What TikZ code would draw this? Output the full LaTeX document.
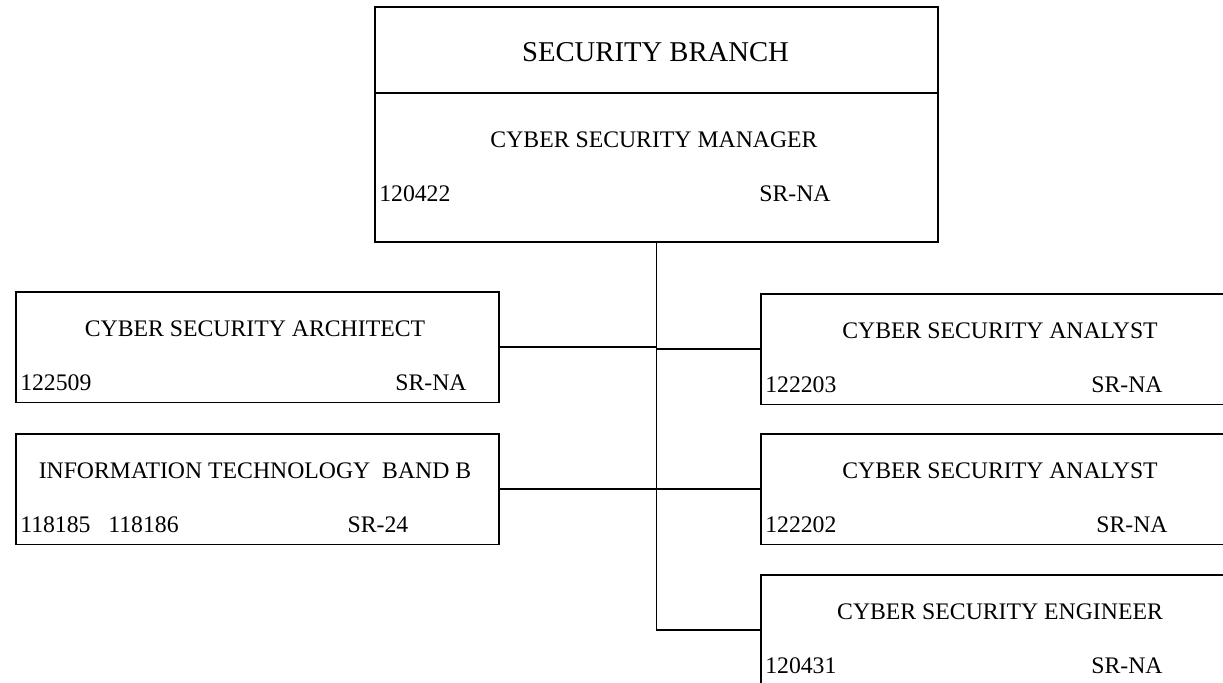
\documentclass[tikz,border=0pt]{standalone}
\usepackage{fontspec}
\setmainfont{Liberation Serif}
\usetikzlibrary{positioning}

\tikzset{
  post/.style={draw, line width=1.2pt, anchor=north west, inner sep=0pt,
    minimum width=362.25pt, minimum height=83pt},
  label/.style={inner sep=0pt, font=\fontsize{17.8}{20}\selectfont},
  link/.style={line width=1pt}
}

\begin{document}
\begin{tikzpicture}[x=0.75pt, y=-0.75pt]
  \useasboundingbox (0,0) rectangle (1223,682);
  \clip (0,0) rectangle (1223,682);

  % Branch head and manager
  \node[post, minimum width=422.25pt, minimum height=64.5pt] (branch) at (374,6) {};
  \node[post, minimum width=422.25pt, minimum height=111.75pt] (mgr) at (374,92) {};
  \node[label, anchor=base, font=\fontsize{21.5}{24}\selectfont] (branch-t) at (655.5,61) {SECURITY BRANCH};
  \node[label, anchor=base] (mgr-t) at (654,147) {CYBER SECURITY MANAGER};
  \node[label, anchor=base west] (mgr-n) at (379,201) {120422};
  \node[label, anchor=base] (mgr-g) at (795,201) {SR-NA};

  % Positions under the manager
  \foreach \n/\x/\y/\t/\num/\g/\gx in {
      arch/15/291/CYBER SECURITY ARCHITECT/122509/SR-NA/431,
      itb/15/433/INFORMATION TECHNOLOGY\ \ BAND B/118185\ \ \ 118186/SR-24/378,
      ana1/760/293/CYBER SECURITY ANALYST/122203/SR-NA/1127,
      ana2/760/433/CYBER SECURITY ANALYST/122202/SR-NA/1132,
      eng/760/574/CYBER SECURITY ENGINEER/120431/SR-NA/1127} {
    \node[post] (\n) at (\x,\y) {};
    \node[label, anchor=base] (\n-t) at (\x+240,\y+45) {\t};
    \node[label, anchor=base west] (\n-n) at (\x+5,\y+99) {\num};
    \node[label, anchor=base] (\n-g) at (\gx,\y+99) {\g};
  }

  % Reporting lines
  \draw[link] (mgr.south) |- (eng.west);
  \draw[link] (arch.east) -- (arch.east -| mgr.south);
  \draw[link] (itb.east) -- (itb.east -| mgr.south);
  \draw[link] (ana1.west) -- (ana1.west -| mgr.south);
  \draw[link] (ana2.west) -- (ana2.west -| mgr.south);
\end{tikzpicture}
\end{document}
